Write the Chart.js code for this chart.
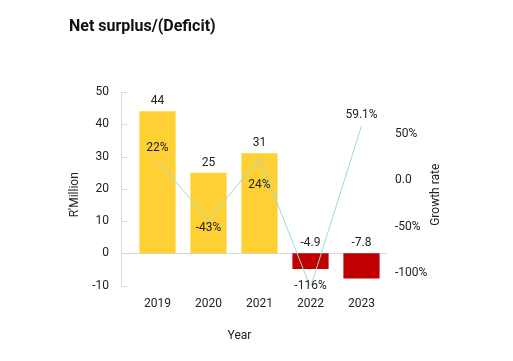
<!DOCTYPE html>
<html>
<head>
<meta charset="utf-8">
<script src="https://cdn.jsdelivr.net/npm/chart.js@4/dist/chart.umd.min.js"></script>
<style>
  html, body { margin: 0; padding: 0; background: #fff; }
  #wrap { position: relative; width: 513px; height: 361px; }
  #title {
    position: absolute; left: 69px; top: 18px; margin: 0;
    font: bold 16px/16px Roboto, sans-serif; color: #111;
  }
</style>
</head>
<body>
<div id="wrap">
  <h1 id="title">Net surplus/(Deficit)</h1>
  <canvas id="surplusChart"></canvas>
</div>
<script>
const years = ['2019', '2020', '2021', '2022', '2023'];
const surplus = [44, 25, 31, -4.9, -7.8];
const growth = [22, -43, 24, -116, 59.1];
const moneyTicks = [-10, 0, 10, 20, 30, 40, 50];
const rateTicks = [-100, -50, 0, 50];
const rateTickLabels = ['-100%', '-50%', '0.0', '50%'];

const textColor = '#222';
const lineColor = '#d9d9d9';
const labelFont = '12px Roboto';

// labels over bars and on the growth line, plus the axis titles
const valueLabels = {
  id: 'valueLabels',
  afterDatasetsDraw(chart) {
    const { ctx, chartArea } = chart;
    const zeroY = chart.scales.y.getPixelForValue(0);
    ctx.save();
    ctx.font = labelFont;
    ctx.fillStyle = textColor;
    ctx.textAlign = 'center';
    ctx.textBaseline = 'middle';
    chart.getDatasetMeta(1).data.forEach((bar, i) => {
      const top = Math.min(bar.y, zeroY);
      ctx.fillText(String(surplus[i]), bar.x, top - 10);
    });
    const shift = [-12, 8, 27, -1, -11];
    chart.getDatasetMeta(0).data.forEach((p, i) => {
      ctx.fillText(growth[i] + '%', p.x, p.y + shift[i]);
    });

    // axis titles
    const midY = (chartArea.top + chartArea.bottom) / 2 + 6;
    ctx.fillText('Year', (chartArea.left + chartArea.right) / 2 - 20, chartArea.bottom + 50);
    [["R'Million", chartArea.left - 57], ['Growth rate', chartArea.right + 49]].forEach(([t, x]) => {
      ctx.save();
      ctx.translate(x, midY);
      ctx.rotate(-Math.PI / 2);
      ctx.fillText(t, 0, 0);
      ctx.restore();
    });
    ctx.restore();
  }
};

// left axis line, short ticks and the zero line
const axisLines = {
  id: 'axisLines',
  beforeDatasetsDraw(chart) {
    const { ctx, chartArea } = chart;
    const y = chart.scales.y;
    const x0 = chartArea.left - 10.5;
    ctx.save();
    ctx.strokeStyle = lineColor;
    ctx.lineWidth = 1;
    ctx.beginPath();
    ctx.moveTo(x0, y.top);
    ctx.lineTo(x0, y.bottom);
    y.ticks.forEach(t => {
      const py = Math.round(y.getPixelForValue(t.value)) + 0.5;
      ctx.moveTo(x0, py);
      ctx.lineTo(x0 + 6, py);
    });
    const zy = Math.round(y.getPixelForValue(0)) + 0.5;
    ctx.moveTo(x0, zy);
    ctx.lineTo(chartArea.right, zy);
    ctx.stroke();
    ctx.restore();
  }
};

const ctx = document.getElementById('surplusChart').getContext('2d');

new Chart(ctx, {
  data: {
    labels: years,
    datasets: [
      {
        type: 'line',
        data: growth,
        yAxisID: 'y1',
        borderColor: '#97ded3',
        borderWidth: 1,
        pointRadius: 0,
        tension: 0,
        order: 0
      },
      {
        type: 'bar',
        data: surplus,
        yAxisID: 'y',
        backgroundColor: surplus.map(v => v < 0 ? '#c00000' : '#ffd033'),
        barPercentage: 0.71,
        categoryPercentage: 1,
        order: 1
      }
    ]
  },
  options: {
    responsive: true,
    maintainAspectRatio: false,
    animation: false,
    layout: { padding: { left: 0, right: 0, top: 92, bottom: 0 } },
    plugins: {
      legend: { display: false },
      tooltip: { enabled: false }
    },
    scales: {
      x: {
        grid: { display: false, drawTicks: false },
        border: { display: false },
        afterFit: s => { s.height = 75.5; },
        ticks: {
          color: textColor,
          padding: 11,
          font: { family: 'Roboto', size: 12 }
        }
      },
      y: {
        position: 'left',
        min: -10,
        max: 50,
        grid: { display: false, drawTicks: false },
        border: { display: false },
        afterFit: s => { s.width = 132; },
        afterBuildTicks: s => { s.ticks = moneyTicks.map(v => ({ value: v })); },
        ticks: {
          color: textColor,
          padding: 23,
          font: { family: 'Roboto', size: 12 }
        }
      },
      y1: {
        position: 'right',
        min: -114,
        max: 96,
        grid: { display: false, drawTicks: false },
        border: { display: false },
        afterFit: s => { s.width = 126; },
        afterBuildTicks: s => { s.ticks = rateTicks.map(v => ({ value: v })); },
        ticks: {
          color: textColor,
          padding: 8,
          font: { family: 'Roboto', size: 12 },
          callback: (v, i) => rateTickLabels[i]
        }
      }
    }
  },
  plugins: [axisLines, valueLabels]
});
</script>
</body>
</html>
